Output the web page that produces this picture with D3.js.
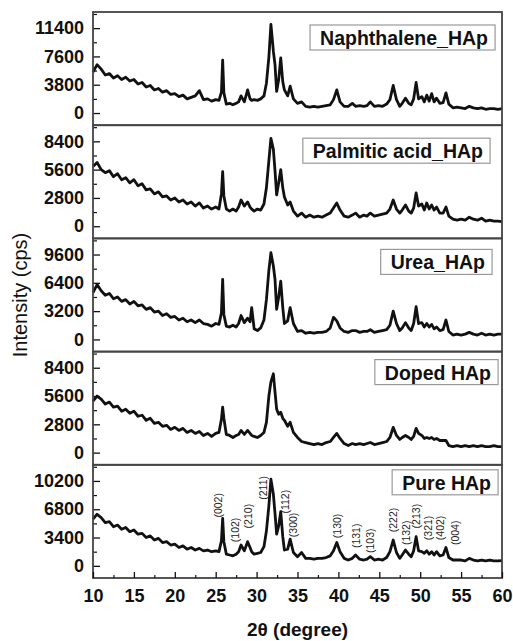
<!DOCTYPE html>
<html>
<head>
<meta charset="utf-8">
<script src="https://cdn.jsdelivr.net/npm/d3@7"></script>
<style>
  body { margin: 0; background: #fff; }
  svg { display: block; }
  text { font-family: "Liberation Sans", Arial, sans-serif; }
</style>
</head>
<body>
<div id="chart"></div>
<script>
// XRD patterns, 2theta grid shared by every sample
var twoTheta = [
  10, 10.5, 11, 11.5, 12, 12.5, 13, 13.5, 14, 14.5,
  15, 15.5, 16, 16.5, 17, 17.5, 18, 18.5, 19, 19.5,
  20, 20.5, 21, 21.5, 22, 22.5, 23, 23.5, 24, 24.5,
  25, 25.4, 25.7, 25.85, 26.0, 26.3, 26.7, 27.1, 27.5, 27.8,
  28.1, 28.5, 28.9, 29.2, 29.4, 29.7, 30.1, 30.5, 30.9, 31.2,
  31.5, 31.75, 32.05, 32.25, 32.45, 32.7, 32.95, 33.2, 33.4, 33.8,
  34.1, 34.5, 35.0, 35.5, 36.0, 36.5, 37.0, 37.5, 38.0, 38.5,
  39.0, 39.4, 39.8, 40.2, 40.7, 41.2, 41.7, 42.1, 42.6, 43.1,
  43.5, 43.9, 44.4, 44.9, 45.4, 45.9, 46.3, 46.7, 47.1, 47.5,
  47.8, 48.2, 48.6, 48.9, 49.2, 49.5, 49.8, 50.2, 50.5, 50.8,
  51.1, 51.4, 51.7, 52.0, 52.4, 52.8, 53.15, 53.5, 54.0, 54.5,
  55.0, 55.5, 56.0, 56.5, 57.0, 57.5, 58.0, 58.5, 59.0, 59.5,
  60
];

var naphthaleneHAp = [
  5500, 6500, 5900, 5100, 5300, 4700, 5000, 4500, 4800, 4300,
  4500, 3900, 4100, 3500, 3700, 3100, 3300, 2800, 3000, 2500,
  2600, 2200, 2400, 1900, 2100, 2300, 3000, 1800, 1900, 1600,
  1800, 1700, 2800, 7100, 2700, 1200, 1300, 1100, 1300, 1500,
  2300, 1500, 3100, 1900, 1700, 1800, 1700, 1900, 2300, 4000,
  7500, 11900, 8300, 6500, 2900, 4500, 7400, 4200, 3100, 2300,
  3600, 1900, 1300, 1500, 900, 800, 900, 800, 900, 1000,
  1100, 1800, 3100, 1500, 900, 900, 1300, 900, 1000, 900,
  1000, 1500, 900, 1000, 900, 1200, 1800, 3700, 1800, 900,
  1300, 2000, 1300, 1100, 1900, 4100, 1900, 2200, 1500, 2400,
  1600, 2600, 1500, 2000, 1300, 1400, 2700, 1200, 700, 800,
  700, 600, 900, 700, 600, 700, 500, 600, 600, 500,
  600
];

var palmiticHAp = [
  5900, 6300, 5600, 5300, 5500, 4900, 5200, 4600, 4800, 4300,
  4600, 4000, 4200, 3600, 3700, 3200, 3400, 2900, 3000, 2600,
  2800, 2400, 2600, 2200, 2400, 2000, 2300, 1800, 2000, 1700,
  1900, 1700, 3200, 5400, 3000, 1700, 1500, 1700, 1500, 1900,
  2600, 2000, 2400, 1900, 1700, 1500, 1700, 1600, 2200, 3800,
  6500, 8700, 7600, 5500, 3100, 4300, 5600, 3800, 2900, 2100,
  2400, 1500, 1000, 1300, 900, 1100, 900, 1000, 900, 1100,
  1300, 1800, 2300, 1600, 1000, 900, 1100, 1300, 900, 1100,
  1000, 1300, 1000, 1100, 1200, 1300, 1700, 2600, 1700, 1300,
  1600, 2100, 1500, 1300, 1800, 3300, 2000, 2200, 1600, 2300,
  1700, 2100, 1600, 1900, 1300, 1300, 1900, 1000, 700, 600,
  700, 600, 900, 700, 600, 800, 500, 600, 500, 500,
  450
];

var ureaHAp = [
  5300, 6200, 5500, 5000, 5200, 4600, 4800, 4300, 4500, 4000,
  4300, 3800, 3900, 3400, 3600, 3100, 3200, 2700, 2900, 2500,
  2600, 2200, 2400, 2000, 2200, 1900, 2200, 1800, 1700, 1500,
  1800, 1700, 3000, 6800, 2800, 1500, 1400, 1600, 1400, 1800,
  2700, 1900, 2400, 2000, 3600, 1200, 1000, 1300, 2200, 4500,
  7800, 9800, 8300, 6800, 3400, 4800, 6600, 3600, 1800, 2100,
  3600, 1800, 900, 1000, 700, 800, 700, 800, 800, 900,
  1300, 2500, 2100, 1300, 900, 800, 1000, 1000, 800, 900,
  900, 1100, 800, 900, 1000, 1100, 1600, 3200, 1800, 1000,
  1300, 1900, 1300, 1000, 1800, 3700, 1800, 1900, 1400, 1800,
  1400, 1700, 1200, 1400, 1000, 1100, 2200, 900, 500, 600,
  500, 600, 800, 600, 500, 700, 500, 600, 500, 600,
  600
];

var dopedHAp = [
  5100, 5600, 5300, 4800, 5000, 4500, 4600, 4100, 4300, 3900,
  4100, 3600, 3700, 3200, 3400, 2900, 3000, 2600, 2700, 2300,
  2500, 2200, 2400, 2000, 2200, 1900, 2100, 1700, 1900, 1600,
  1900, 2000, 3300, 4500, 3400, 1800, 1700, 1500, 1700, 1800,
  2200, 1800, 2200, 1900, 1700, 1600, 1500, 1700, 2000, 3000,
  5600, 7000, 7800, 6000, 4300, 3800, 4000, 3400, 3200, 2600,
  3000, 2000, 1500, 1100, 1000, 900, 800, 900, 800, 1000,
  1100, 1500, 1900, 1400, 900, 700, 900, 800, 900, 800,
  900, 1000, 800, 900, 1000, 1100, 1500, 2500, 1700, 1300,
  1500, 1700, 1500, 1300, 1600, 2400, 1900, 1700, 1400, 1500,
  1400, 1500, 1300, 1400, 1200, 1200, 1200, 700, 600, 700,
  600, 700, 600, 700, 600, 700, 600, 600, 700, 600,
  600
];

var pureHAp = [
  5600, 6200, 5800, 5200, 5300, 4700, 4900, 4400, 4600, 4100,
  4300, 3800, 3900, 3400, 3600, 3100, 3300, 2800, 2900, 2500,
  2600, 2200, 2400, 2000, 2200, 1900, 2100, 1800, 1900, 1700,
  1800, 1700, 3000, 5700, 2900, 1400, 1300, 1200, 1400, 1700,
  2500, 1800, 2900, 2200, 1700, 1400, 1500, 1600, 2300, 4200,
  7200, 10400, 8600, 6300, 3800, 4800, 6500, 3500, 1900, 2000,
  3200, 1600, 1100, 1600, 900, 900, 800, 900, 900, 1000,
  1200, 1800, 2800, 1700, 900, 700, 900, 1300, 800, 700,
  800, 1100, 700, 800, 700, 1000, 1700, 3100, 1600, 900,
  1300, 1900, 1400, 1100, 1800, 3500, 1800, 1700, 1500, 1800,
  1400, 1700, 1300, 1700, 1200, 1300, 2200, 1000, 700, 700,
  700, 600, 900, 700, 600, 700, 600, 700, 600, 600,
  630
];

var sampleNames = ["Naphthalene_HAp", "Palmitic acid_HAp", "Urea_HAp", "Doped HAp", "Pure HAp"];
var tickSteps = [3800, 2800, 3200, 2800, 3400];   // y tick spacing of each panel
var xTicks = [10, 15, 20, 25, 30, 35, 40, 45, 50, 55, 60];

// Miller indices written over the Pure HAp pattern
var hklLabels = ["(002)", "(102)", "(210)", "(211)", "(112)", "(300)", "(130)", "(131)",
                 "(103)", "(222)", "(132)", "(213)", "(321)", "(402)", "(004)"];
var hklTheta = [25.3, 27.4, 28.95, 30.85, 33.45, 34.5, 39.85, 42.25, 43.85, 46.7, 48.25, 49.55, 51.0, 52.4, 54.25];
var hklBase = [5800, 2840, 4500, 7940, 6280, 3440, 3320, 2130, 1540, 4030, 2490, 4500, 3080, 3080, 2490];

var series = [naphthaleneHAp, palmiticHAp, ureaHAp, dopedHAp, pureHAp];

// layout
var W = 513, H = 641;
var left = 93, right = 502, top0 = 12, panelH = 113.2;
var legendRight = [495, 490, 492, 498, 498];
var legendTop = [13, 13, 11, 8, 5];

var svg = d3.select("#chart").append("svg").attr("width", W).attr("height", H);

var x = d3.scaleLinear().domain([10, 60]).range([left, right]);

series.forEach(function(vals, i) {
  var top = top0 + i * panelH;
  var step = tickSteps[i];
  var y = d3.scaleLinear().domain([-0.43 * step, 3.57 * step]).range([top + panelH, top]);

  // major ticks with labels, pointing inward
  var ax = svg.append("g").attr("transform", "translate(" + left + ",0)")
    .call(d3.axisLeft(y).tickValues([0, 1, 2, 3].map(k => k * step))
      .tickFormat(d3.format("d")).tickSize(-7).tickPadding(9));
  ax.select(".domain").remove();
  ax.selectAll("line").attr("stroke", "#111").attr("stroke-width", 1.3);
  ax.selectAll("text").attr("font-size", 18).attr("font-weight", "bold").attr("fill", "#111");

  // minor ticks
  var mx = svg.append("g").attr("transform", "translate(" + left + ",0)")
    .call(d3.axisLeft(y).tickValues([0.5, 1.5, 2.5, 3.5].map(k => k * step)).tickSize(-4).tickFormat(""));
  mx.select(".domain").remove();
  mx.selectAll("line").attr("stroke", "#111").attr("stroke-width", 1.2);

  var line = d3.line()
    .x((d, j) => x(twoTheta[j]))
    .y(d => y(d));

  svg.append("path")
    .datum(vals)
    .attr("d", line)
    .attr("fill", "none")
    .attr("stroke", "#111")
    .attr("stroke-width", 2.8)
    .attr("stroke-linejoin", "round");

  // panel frame
  svg.append("rect")
    .attr("x", left).attr("y", top)
    .attr("width", right - left).attr("height", panelH)
    .attr("fill", "none").attr("stroke", "#444").attr("stroke-width", 1.8);

  // legend box
  var lg = svg.append("g");
  var t = lg.append("text")
    .attr("x", legendRight[i] - 7)
    .attr("y", top + legendTop[i] + 20)
    .attr("text-anchor", "end")
    .attr("font-size", 19.5)
    .attr("font-weight", "bold")
    .attr("fill", "#111")
    .text(sampleNames[i]);
  var bb = t.node().getBBox();
  lg.insert("rect", "text")
    .attr("x", bb.x - 10).attr("y", top + legendTop[i])
    .attr("width", bb.width + 17).attr("height", 25)
    .attr("fill", "#fff").attr("stroke", "#999").attr("stroke-width", 1.2);

  // hkl labels on the last panel
  if (i === series.length - 1) {
    svg.append("g").selectAll("text")
      .data(hklLabels)
      .enter()
      .append("text")
      .attr("transform", (d, k) => "translate(" + x(hklTheta[k]) + "," + y(hklBase[k]) + ") rotate(-90)")
      .attr("dy", "0.35em")
      .attr("font-size", 10.5)
      .attr("fill", "#222")
      .text(d => d);
  }
});

var bottom = top0 + 5 * panelH;

// x axis
var xa = svg.append("g").attr("transform", "translate(0," + bottom + ")")
  .call(d3.axisBottom(x).tickValues(xTicks).tickSize(-6).tickPadding(11));
xa.select(".domain").remove();
xa.selectAll("line").attr("stroke", "#111").attr("stroke-width", 1.3);
xa.selectAll("text").attr("font-size", 18).attr("font-weight", "bold").attr("fill", "#111");

var xm = svg.append("g").attr("transform", "translate(0," + bottom + ")")
  .call(d3.axisBottom(x).tickValues(xTicks.slice(1).map(v => v - 2.5)).tickSize(-3).tickFormat(""));
xm.select(".domain").remove();
xm.selectAll("line").attr("stroke", "#111").attr("stroke-width", 1.2);

// axis titles
svg.append("text")
  .attr("x", (left + right) / 2).attr("y", 636)
  .attr("text-anchor", "middle")
  .attr("font-size", 19).attr("font-weight", "bold").attr("fill", "#111")
  .text("2θ (degree)");

svg.append("text")
  .attr("transform", "translate(27," + (top0 + 2.5 * panelH) + ") rotate(-90)")
  .attr("text-anchor", "middle")
  .attr("font-size", 20).attr("fill", "#111")
  .text("Intensity (cps)");
</script>
</body>
</html>
